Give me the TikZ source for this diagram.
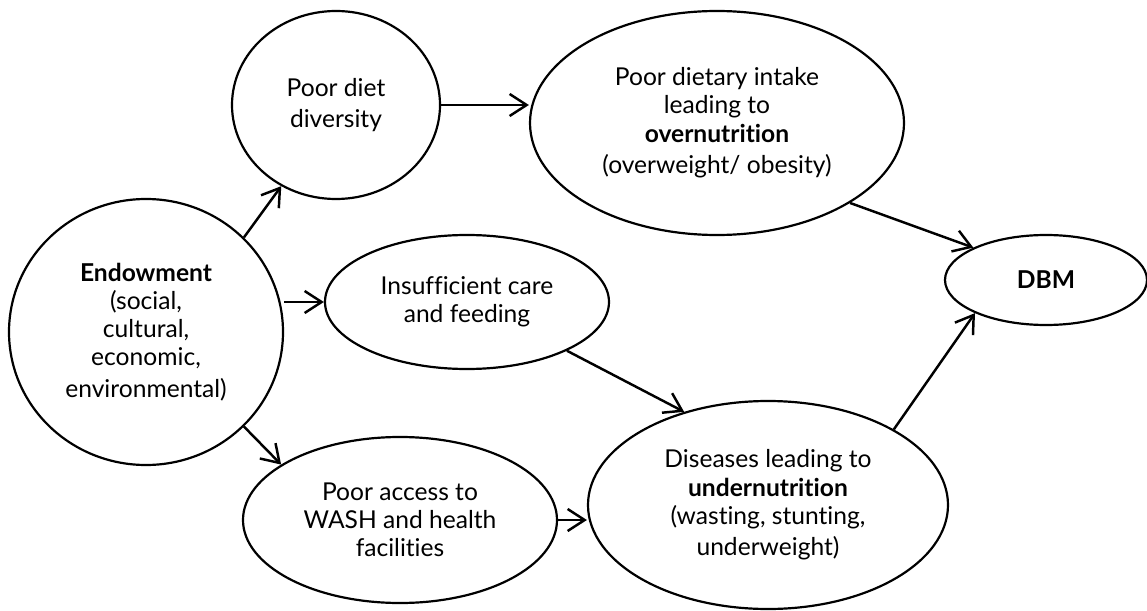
\documentclass[tikz,border=0pt]{standalone}
\usepackage{fontspec}
\setmainfont{Lato}[Ligatures=NoCommon]
\usetikzlibrary{arrows.meta,shapes.geometric}

\begin{document}
\begin{tikzpicture}[
  font=\fontsize{14}{16}\selectfont,
  every node/.style={align=center},
  bubble/.style={ellipse,draw=black,line width=1.25pt,inner sep=0pt},
  flow/.style={-{Straight Barb[length=3.4mm,width=4.4mm]},line width=1.4pt,black}
]
\useasboundingbox (0,0) rectangle (22.94,12.2);

% --- Source ---
\node[bubble,minimum width=5.48cm,minimum height=5.32cm] (endow) at (2.92,5.56)
  {\textbf{Endowment}\\(social,\\cultural,\\economic,\\[2pt]environmental)};

% --- Intermediate causes ---
\node[bubble,minimum width=4.16cm,minimum height=3.76cm] (pdiet) at (6.72,10.10)
  {Poor diet\\[2pt]diversity};
\node[bubble,minimum width=5.68cm,minimum height=2.68cm] (ins) at (9.34,6.16)
  {Insufficient care\\and feeding};
\node[bubble,minimum width=6.28cm,minimum height=3.32cm] (access) at (8.00,1.80)
  {Poor access to\\WASH and health\\facilities};

% --- Outcomes ---
\node[bubble,minimum width=7.48cm,minimum height=4.48cm] (pdi) at (14.34,9.74)
  {Poor dietary intake\\leading to\\\textbf{overnutrition}\\[2pt](overweight/ obesity)};
\node[bubble,minimum width=7.20cm,minimum height=4.16cm] (dis) at (15.36,2.10)
  {Diseases leading to\\\textbf{undernutrition}\\(wasting, stunting,\\[2pt]underweight)};
\node[bubble,minimum width=4.04cm,minimum height=1.80cm] (dbm) at (20.92,6.60)
  {\textbf{DBM}};

% --- Arrows ---
\draw[flow] (endow.44) -- (pdiet.236);
\draw[flow] (endow.east |- ins.west) -- (ins.west);
\draw[flow] (endow.-44) -- (access.155);
\draw[flow] (pdiet.east) -- (pdiet.east -| pdi.west);
\draw[flow] (ins.-26) -- (dis.132);
\draw[flow] (access.east) -- (access.east -| dis.west);
\draw[flow] (pdi.-31) -- (dbm.156);
\draw[flow] (dis.31) -- (dbm.205);
\end{tikzpicture}
\end{document}
